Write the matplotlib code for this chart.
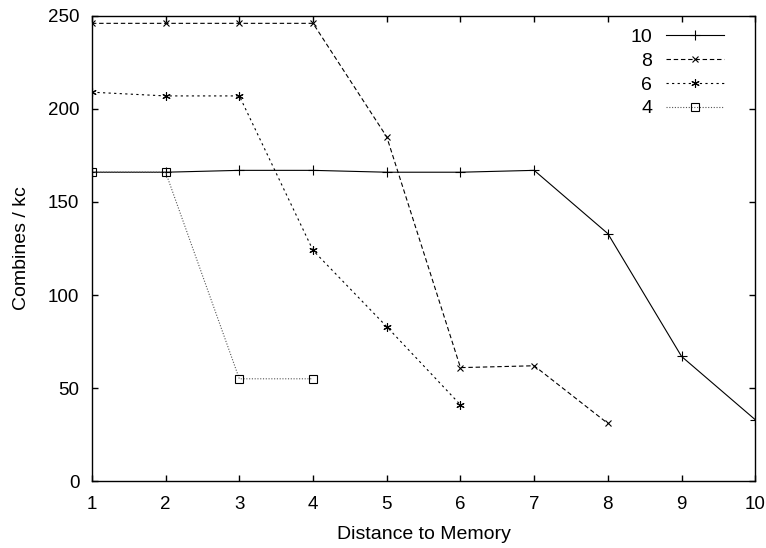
import matplotlib.pyplot as plt
import numpy as np

plt.rcParams['font.family'] = ['Liberation Sans', 'DejaVu Sans']

# Combines per kilocycle vs. distance to memory, one series per size
dist_10 = [1, 2, 3, 4, 5, 6, 7, 8, 9, 10]
comb_10 = [166, 166, 167, 167, 166, 166, 167, 133, 67, 33]

dist_8 = [1, 2, 3, 4, 5, 6, 7, 8]
comb_8 = [246, 246, 246, 246, 185, 61, 62, 31]

dist_6 = [1, 2, 3, 4, 5, 6]
comb_6 = [209, 207, 207, 124, 83, 41]

dist_4 = [1, 2, 3, 4]
comb_4 = [166, 166, 55, 55]

fig = plt.figure(figsize=(7.66, 5.48), dpi=100)
ax = fig.add_axes([0.120, 0.122, 0.866, 0.849])

lw = 0.8
ax.plot(dist_10, comb_10, color='black', linewidth=lw, linestyle='-',
        marker='+', markersize=7, markeredgewidth=0.8, label='10')
ax.plot(dist_8, comb_8, color='black', linewidth=lw, linestyle=(0, (4, 2.5)),
        marker='x', markersize=5, markeredgewidth=0.8, label='8')
# gnuplot-style asterisk: plus and cross overlaid
ax.plot(dist_6, comb_6, color='black', linewidth=lw, linestyle=(0, (2, 3)),
        marker=(6, 2, 0), markersize=6, markeredgewidth=0.8, label='6')
ax.plot(dist_4, comb_4, color='#555555', linewidth=lw, linestyle=(0, (1, 1.5)),
        marker='s', markersize=6, markerfacecolor='none', markeredgecolor='black',
        markeredgewidth=0.8, label='4')

ax.set_xlim(1, 10)
ax.set_ylim(0, 250)
ax.set_xticks(np.arange(1, 11))
ax.set_yticks(np.arange(0, 251, 50))
ax.tick_params(direction='in', top=True, right=True, length=4.5, width=1,
               labelsize=13.5)
ax.tick_params(axis='x', pad=11)
ax.tick_params(axis='y', pad=9)
for s in ax.spines.values():
    s.set_linewidth(1)

ax.set_xlabel('Distance to Memory', fontsize=14, labelpad=9)
ax.set_ylabel('Combines / kc', fontsize=14, labelpad=13)

ax.legend(loc='upper right', frameon=False, markerfirst=False, fontsize=14,
          handlelength=3.0, handletextpad=0.7, labelspacing=0.32,
          borderaxespad=0, bbox_to_anchor=(0.965, 0.99))

fig.savefig('out.png', dpi=100)
